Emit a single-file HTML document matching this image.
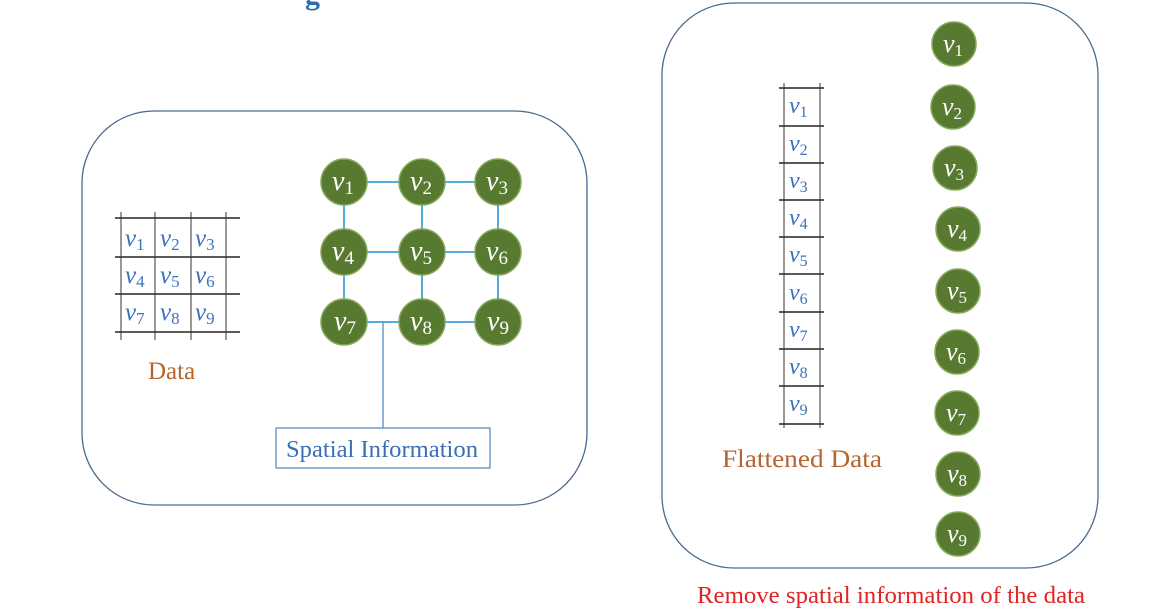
<!DOCTYPE html>
<html><head><meta charset="utf-8"><style>
html,body{margin:0;padding:0;background:#fff;width:1151px;height:610px;overflow:hidden}
svg{display:block}
.v{font-family:"Liberation Serif",serif;font-style:italic}
</style></head><body>
<svg width="1151" height="610" viewBox="0 0 1151 610" xmlns="http://www.w3.org/2000/svg">
<text x="305" y="4" font-family="Liberation Serif,serif" font-size="30" fill="#2e6db4" font-weight="bold">g</text>
<rect x="82" y="111" width="505" height="394" rx="72" fill="none" stroke="#4a6a90" stroke-width="1.3"/>
<rect x="662" y="3" width="436" height="565" rx="72" fill="none" stroke="#4a6a90" stroke-width="1.3"/>
<g stroke="#222" stroke-width="1.6">
<line x1="115" y1="218" x2="240" y2="218"/><line x1="115" y1="257" x2="240" y2="257"/>
<line x1="115" y1="294" x2="240" y2="294"/><line x1="115" y1="332" x2="240" y2="332"/>
</g>
<g stroke="#333" stroke-width="1">
<line x1="121" y1="212" x2="121" y2="340"/><line x1="155" y1="212" x2="155" y2="340"/>
<line x1="191" y1="212" x2="191" y2="340"/><line x1="226" y1="212" x2="226" y2="340"/>
</g>
<g class="v" fill="#3a73b8" font-size="25">
<text x="125" y="246">v<tspan font-size="17" font-style="normal" dy="4">1</tspan></text>
<text x="160" y="246">v<tspan font-size="17" font-style="normal" dy="4">2</tspan></text>
<text x="195" y="246">v<tspan font-size="17" font-style="normal" dy="4">3</tspan></text>
<text x="125" y="283">v<tspan font-size="17" font-style="normal" dy="4">4</tspan></text>
<text x="160" y="283">v<tspan font-size="17" font-style="normal" dy="4">5</tspan></text>
<text x="195" y="283">v<tspan font-size="17" font-style="normal" dy="4">6</tspan></text>
<text x="125" y="320">v<tspan font-size="17" font-style="normal" dy="4">7</tspan></text>
<text x="160" y="320">v<tspan font-size="17" font-style="normal" dy="4">8</tspan></text>
<text x="195" y="320">v<tspan font-size="17" font-style="normal" dy="4">9</tspan></text>
</g>
<text x="148" y="379" font-family="Liberation Serif,serif" font-size="25" fill="#b5652e">Data</text>
<g stroke="#55aae0" stroke-width="2">
<line x1="344" y1="182" x2="498" y2="182"/><line x1="344" y1="252" x2="498" y2="252"/><line x1="344" y1="322" x2="498" y2="322"/>
<line x1="344" y1="182" x2="344" y2="322"/><line x1="422" y1="182" x2="422" y2="322"/><line x1="498" y1="182" x2="498" y2="322"/>
</g>
<line x1="383" y1="322" x2="383" y2="428" stroke="#6c9bd0" stroke-width="1.5"/>
<rect x="276" y="428" width="214" height="40" fill="#fff" stroke="#5a8cc8" stroke-width="1.3"/>
<text x="286" y="457" font-family="Liberation Serif,serif" font-size="24" fill="#3a6fb5" textLength="192" lengthAdjust="spacingAndGlyphs">Spatial Information</text>
<g fill="#587a30" stroke="#86a85a" stroke-width="1.5">
<circle cx="344" cy="182" r="23"/><circle cx="422" cy="182" r="23"/><circle cx="498" cy="182" r="23"/>
<circle cx="344" cy="252" r="23"/><circle cx="422" cy="252" r="23"/><circle cx="498" cy="252" r="23"/>
<circle cx="344" cy="322" r="23"/><circle cx="422" cy="322" r="23"/><circle cx="498" cy="322" r="23"/>
</g>
<g class="v" fill="#fff" font-size="28">
<text x="332" y="190">v<tspan font-size="19" font-style="normal" dy="4">1</tspan></text>
<text x="410" y="190">v<tspan font-size="19" font-style="normal" dy="4">2</tspan></text>
<text x="486" y="190">v<tspan font-size="19" font-style="normal" dy="4">3</tspan></text>
<text x="332" y="260">v<tspan font-size="19" font-style="normal" dy="4">4</tspan></text>
<text x="410" y="260">v<tspan font-size="19" font-style="normal" dy="4">5</tspan></text>
<text x="486" y="260">v<tspan font-size="19" font-style="normal" dy="4">6</tspan></text>
<text x="334" y="330">v<tspan font-size="19" font-style="normal" dy="4">7</tspan></text>
<text x="410" y="330">v<tspan font-size="19" font-style="normal" dy="4">8</tspan></text>
<text x="487" y="330">v<tspan font-size="19" font-style="normal" dy="4">9</tspan></text>
</g>
<g stroke="#222" stroke-width="1.6">
<line x1="779" y1="88" x2="824" y2="88"/><line x1="779" y1="126" x2="824" y2="126"/>
<line x1="779" y1="163" x2="824" y2="163"/><line x1="779" y1="200" x2="824" y2="200"/>
<line x1="779" y1="237" x2="824" y2="237"/><line x1="779" y1="274" x2="824" y2="274"/>
<line x1="779" y1="312" x2="824" y2="312"/><line x1="779" y1="349" x2="824" y2="349"/>
<line x1="779" y1="386" x2="824" y2="386"/><line x1="779" y1="424" x2="824" y2="424"/>
</g>
<g stroke="#333" stroke-width="1">
<line x1="784" y1="83" x2="784" y2="428"/><line x1="820" y1="83" x2="820" y2="428"/>
</g>
<g class="v" fill="#3a73b8" font-size="24">
<text x="789" y="113">v<tspan font-size="16" font-style="normal" dy="4">1</tspan></text>
<text x="789" y="151">v<tspan font-size="16" font-style="normal" dy="4">2</tspan></text>
<text x="789" y="188">v<tspan font-size="16" font-style="normal" dy="4">3</tspan></text>
<text x="789" y="225">v<tspan font-size="16" font-style="normal" dy="4">4</tspan></text>
<text x="789" y="262">v<tspan font-size="16" font-style="normal" dy="4">5</tspan></text>
<text x="789" y="300">v<tspan font-size="16" font-style="normal" dy="4">6</tspan></text>
<text x="789" y="337">v<tspan font-size="16" font-style="normal" dy="4">7</tspan></text>
<text x="789" y="374">v<tspan font-size="16" font-style="normal" dy="4">8</tspan></text>
<text x="789" y="411">v<tspan font-size="16" font-style="normal" dy="4">9</tspan></text>
</g>
<text x="722" y="467" font-family="Liberation Serif,serif" font-size="25" fill="#b5652e" textLength="160" lengthAdjust="spacingAndGlyphs">Flattened Data</text>
<g fill="#587a30" stroke="#86a85a" stroke-width="1.5">
<circle cx="954" cy="44" r="22"/><circle cx="953" cy="107" r="22"/><circle cx="955" cy="168" r="22"/>
<circle cx="958" cy="229" r="22"/><circle cx="958" cy="291" r="22"/><circle cx="957" cy="352" r="22"/>
<circle cx="957" cy="413" r="22"/><circle cx="958" cy="474" r="22"/><circle cx="958" cy="534" r="22"/>
</g>
<g class="v" fill="#fff" font-size="26">
<text x="943" y="52">v<tspan font-size="17" font-style="normal" dy="4">1</tspan></text>
<text x="942" y="115">v<tspan font-size="17" font-style="normal" dy="4">2</tspan></text>
<text x="944" y="176">v<tspan font-size="17" font-style="normal" dy="4">3</tspan></text>
<text x="947" y="237">v<tspan font-size="17" font-style="normal" dy="4">4</tspan></text>
<text x="947" y="299">v<tspan font-size="17" font-style="normal" dy="4">5</tspan></text>
<text x="946" y="360">v<tspan font-size="17" font-style="normal" dy="4">6</tspan></text>
<text x="946" y="421">v<tspan font-size="17" font-style="normal" dy="4">7</tspan></text>
<text x="947" y="482">v<tspan font-size="17" font-style="normal" dy="4">8</tspan></text>
<text x="947" y="542">v<tspan font-size="17" font-style="normal" dy="4">9</tspan></text>
</g>
<text x="697" y="603" font-family="Liberation Serif,serif" font-size="24" fill="#e02424" textLength="388" lengthAdjust="spacingAndGlyphs">Remove spatial information of the data</text>
</svg>
</body></html>
